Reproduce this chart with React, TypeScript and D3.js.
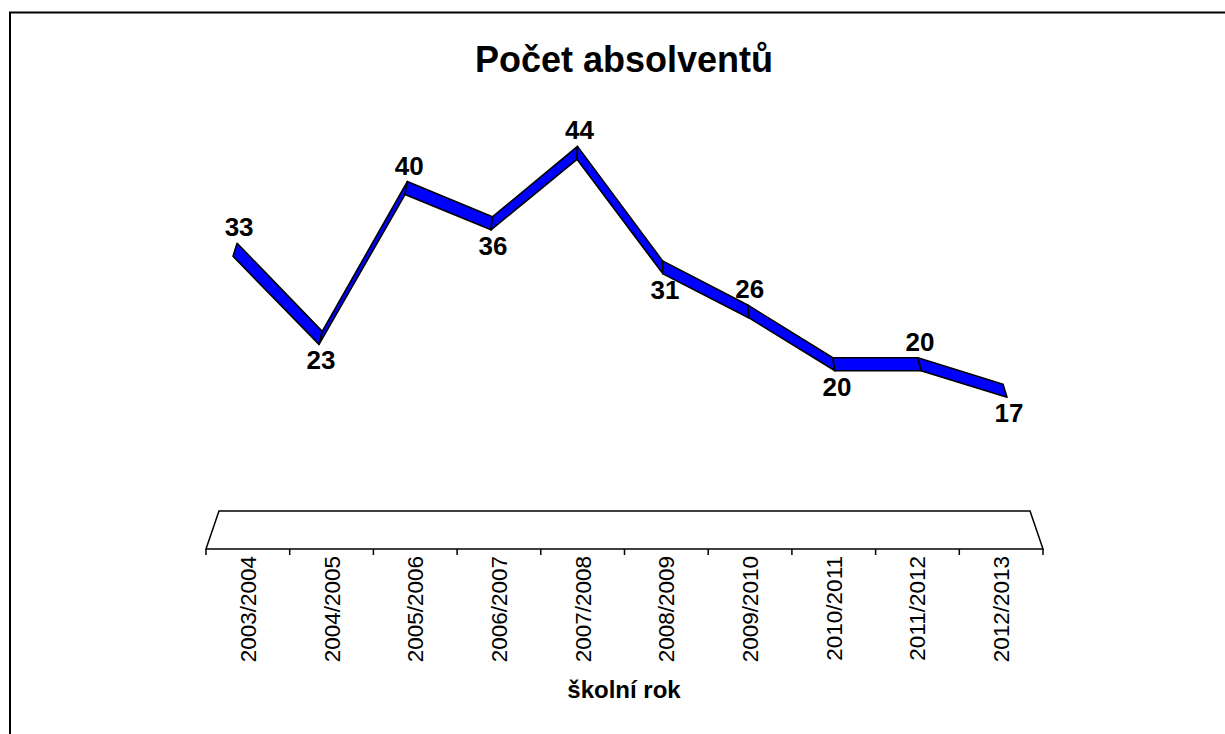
import React, { useRef, useEffect } from 'react'
import * as d3 from 'd3'

const years = [
	'2003/2004',
	'2004/2005',
	'2005/2006',
	'2006/2007',
	'2007/2008',
	'2008/2009',
	'2009/2010',
	'2010/2011',
	'2011/2012',
	'2012/2013',
]
const graduates = [33, 23, 40, 36, 44, 31, 26, 20, 20, 17]

const font = 'Arial, "Liberation Sans", sans-serif'

const App = () => {
	const svgRef = useRef<SVGSVGElement | null>(null)

	//svg container width/height
	const svgWidth = 1225,
		svgHeight = 734

	useEffect(() => {
		const svg = d3.select(svgRef.current)
		svg.selectAll('*').remove()

		// outer chart border (runs off the bottom/right)
		svg
			.append('rect')
			.attr('x', 10)
			.attr('y', 12.5)
			.attr('width', 1400)
			.attr('height', 900)
			.attr('fill', 'white')
			.attr('stroke', 'black')
			.attr('stroke-width', 2)

		svg
			.append('text')
			.text('Počet absolventů')
			.attr('x', 624)
			.attr('y', 72)
			.attr('text-anchor', 'middle')
			.style('font-family', font)
			.style('font-weight', 'bold')
			.style('font-size', '36px')

		// floor (front edge = category axis)
		const floorY = 549,
			depth = 38
		const xBand = d3.scaleBand().domain(years).range([206, 1043])
		const cx = 624.5
		const persp = 0.031 //how much the back edge shrinks toward the middle

		const [fx0, fx1] = xBand.range()
		const floor = [
			[fx0, floorY],
			[fx1, floorY],
			[fx1 + (cx - fx1) * persp, floorY - depth],
			[fx0 + (cx - fx0) * persp, floorY - depth],
		]
		svg
			.append('path')
			.attr('d', d3.line()(floor as [number, number][]) + 'Z')
			.attr('fill', 'none')
			.attr('stroke', 'black')
			.attr('stroke-width', 1.5)

		const tickXs = years.map((d) => xBand(d)!).concat([fx1])
		svg
			.selectAll('line.tick')
			.data(tickXs)
			.enter()
			.append('line')
			.attr('class', 'tick')
			.attr('x1', (d) => d)
			.attr('x2', (d) => d)
			.attr('y1', floorY)
			.attr('y2', floorY + 6)
			.attr('stroke', 'black')
			.attr('stroke-width', 1.5)

		svg
			.selectAll('text.cat')
			.data(years)
			.enter()
			.append('text')
			.attr('class', 'cat')
			.text((d) => d)
			.attr('transform', (d) => {
				const x = xBand(d)! + xBand.bandwidth() / 2 + 8
				return `translate(${x},${floorY + 7}) rotate(-90)`
			})
			.attr('text-anchor', 'end')
			.style('font-family', font)
			.style('font-size', '22.5px')

		svg
			.append('text')
			.text('školní rok')
			.attr('x', 624)
			.attr('y', 698)
			.attr('text-anchor', 'middle')
			.style('font-family', font)
			.style('font-weight', 'bold')
			.style('font-size', '24px')

		// 3D ribbon line
		const x = d3.scalePoint().domain(years).range([233, 1007])
		const y = d3.scaleLinear().domain([0, 50]).range([547, 106.5])
		const ribbon = 13
		const k = 0.0105

		const front = graduates.map((v, i) => {
			const px = x(years[i])!
			return [px, y(v)]
		})
		const back = front.map(([px, py]) => [px + (cx - px) * k, py - ribbon])

		const segs = d3.range(graduates.length - 1).map((i) => [
			front[i],
			front[i + 1],
			back[i + 1],
			back[i],
		])

		svg
			.selectAll('path.seg')
			.data(segs)
			.enter()
			.append('path')
			.attr('class', 'seg')
			.attr('d', (d) => d3.line()(d as [number, number][]) + 'Z')
			.attr('fill', '#0000FF')
			.attr('stroke', 'black')
			.attr('stroke-width', 1.6)
			.attr('stroke-linejoin', 'round')

		// value labels alternate above / below
		svg
			.selectAll('text.val')
			.data(graduates)
			.enter()
			.append('text')
			.attr('class', 'val')
			.text((d) => d)
			.attr('x', (d, i) => (i % 2 === 0 ? back[i][0] : front[i][0]) + 2)
			.attr('y', (d, i) => (i % 2 === 0 ? back[i][1] - 7 : front[i][1] + 25))
			.attr('text-anchor', 'middle')
			.style('font-family', font)
			.style('font-weight', 'bold')
			.style('font-size', '26px')
	}, [])

	return (
		<svg
			ref={svgRef}
			width={svgWidth}
			height={svgHeight}
			style={{ position: 'absolute', left: 0, top: 0 }}
		></svg>
	)
}

export default App
